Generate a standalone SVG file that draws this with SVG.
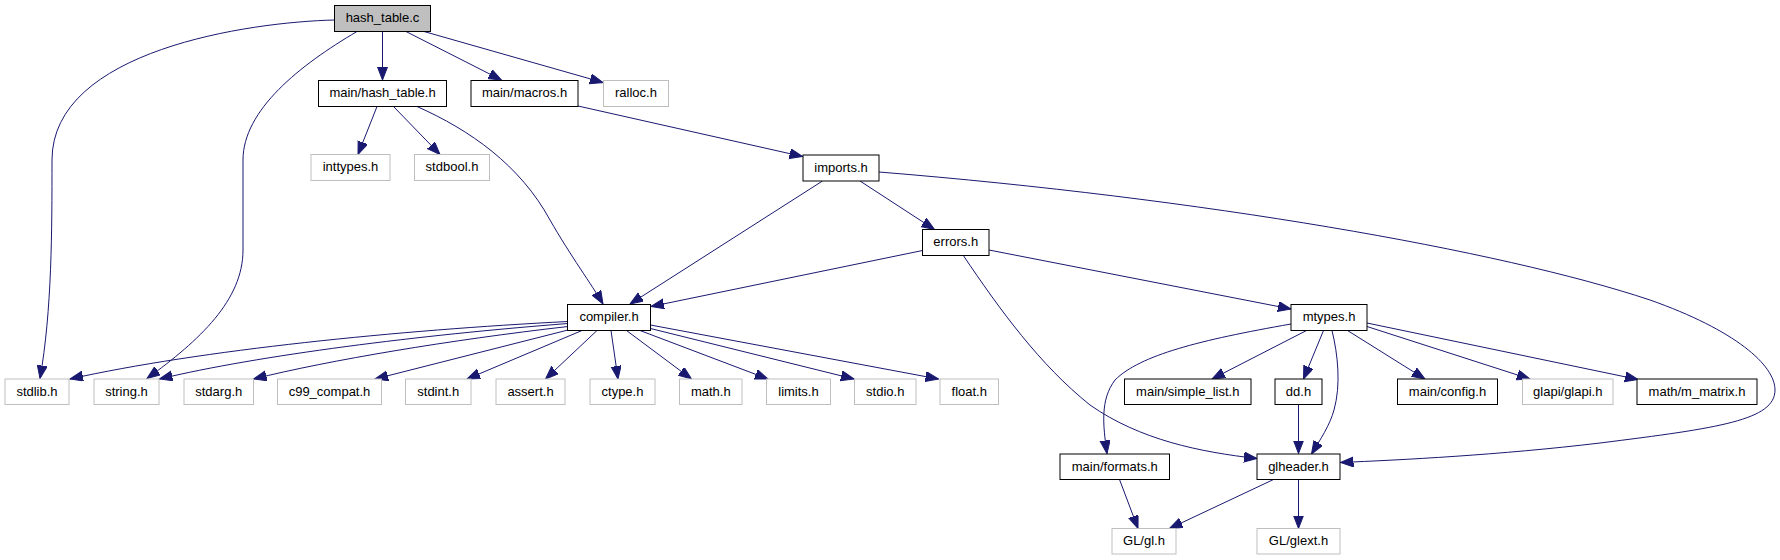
<svg xmlns="http://www.w3.org/2000/svg" width="1780" height="560" viewBox="0 0 1780 560">
<style>
.n rect{fill:#fff;stroke:#000;stroke-width:1}
.g rect{fill:#fff;stroke:#bfbfbf;stroke-width:1}
.m rect{fill:#bfbfbf;stroke:#000;stroke-width:1}
text{font-family:"Liberation Sans",Arial,sans-serif;font-size:13px;fill:#000;text-anchor:middle}
#edges path{fill:none;stroke:#191970;stroke-width:1;marker-end:url(#ah)}
</style>
<defs>
<marker id="ah" markerUnits="userSpaceOnUse" markerWidth="14" markerHeight="11" refX="13" refY="5" orient="auto">
<path d="M0,0 L13,5 L0,10 z" fill="#191970" stroke="#191970" stroke-width="1"/>
</marker>
</defs>
<rect width="1780" height="560" fill="#fff"/>
<g id="edges">
<path d="M334.5,20 C250,22 52,50 52,160 C52,230 52,310 40,378.5"/>
<path d="M357,31.5 C300,65 243,110 243,160 L243,250 C243,300 200,340 147,378.5"/>
<path d="M382.5,31.5 L382.5,80"/>
<path d="M406,31.5 L501.5,80"/>
<path d="M424,31.5 L603,82.5"/>
<path d="M377,106.5 L358,154.5"/>
<path d="M393.5,106.5 L440,154.5"/>
<path d="M417,106.5 C470,130 520,165 550,220 C570,255 592,285 603,304"/>
<path d="M578,106 L802.5,156.5"/>
<path d="M822.5,181 L630,304"/>
<path d="M860,181 L934.5,229.5"/>
<path d="M879,172 C1200,198 1500,250 1650,300 C1735,330 1775,365 1775,390 C1775,420 1720,428 1600,443 C1500,455 1400,460 1340.5,462.5"/>
<path d="M922.5,250.5 L651,306.5"/>
<path d="M989,250 L1291,309"/>
<path d="M963,255 C1000,310 1040,365 1090,405 C1140,440 1200,452 1257,458.5"/>
<path d="M568,321.5 C400,330 200,350 70,379"/>
<path d="M568,323.5 C420,335 260,355 159.5,379"/>
<path d="M568,326.5 C450,340 330,360 253.5,379"/>
<path d="M570,329.5 L375,379"/>
<path d="M582,330.5 L467,379"/>
<path d="M597,330.5 L545.5,379"/>
<path d="M611,330.5 L618,379"/>
<path d="M626.5,330.5 L691.5,379"/>
<path d="M640,330.5 L768,379"/>
<path d="M650.5,328.5 L854,379"/>
<path d="M650.5,325 L938.5,379"/>
<path d="M1291,324 C1200,340 1140,355 1115,380 C1100,400 1103,425 1107,453.5"/>
<path d="M1306.5,330.5 L1212,379"/>
<path d="M1323.5,330.5 L1303.5,379"/>
<path d="M1332,330.5 C1338,355 1341,385 1334,410 C1330,425 1320,440 1311.5,454"/>
<path d="M1347.5,330.5 L1425,379"/>
<path d="M1367,326.5 L1530,379"/>
<path d="M1367,323 L1638,379.5"/>
<path d="M1298.5,404.5 L1298.5,453.5"/>
<path d="M1119.5,479.5 L1138,528.5"/>
<path d="M1273.5,479.5 L1169.5,528.5"/>
<path d="M1298.5,479.5 L1298.5,528.5"/>
</g>
<g id="hash_table_c" class="m"><rect x="334.5" y="5.5" width="96" height="26"/><text x="382.5" y="22">hash_table.c</text></g>
<g id="main_hash_table_h" class="n"><rect x="318.5" y="80.5" width="128" height="26"/><text x="382.5" y="97">main/hash_table.h</text></g>
<g id="main_macros_h" class="n"><rect x="471" y="80.5" width="107" height="26"/><text x="524.5" y="97">main/macros.h</text></g>
<g id="ralloc_h" class="g"><rect x="603.5" y="80.5" width="65" height="26"/><text x="636" y="97">ralloc.h</text></g>
<g id="inttypes_h" class="g"><rect x="311" y="154.5" width="79" height="26"/><text x="350.5" y="171">inttypes.h</text></g>
<g id="stdbool_h" class="g"><rect x="414.5" y="154.5" width="75" height="26"/><text x="452" y="171">stdbool.h</text></g>
<g id="imports_h" class="n"><rect x="803" y="155" width="76" height="26"/><text x="841" y="171.5">imports.h</text></g>
<g id="errors_h" class="n"><rect x="922.5" y="229.5" width="66.5" height="26"/><text x="955.75" y="246">errors.h</text></g>
<g id="compiler_h" class="n"><rect x="567.5" y="304.5" width="83" height="26"/><text x="609" y="321">compiler.h</text></g>
<g id="mtypes_h" class="n"><rect x="1291" y="304.5" width="76" height="26"/><text x="1329" y="321">mtypes.h</text></g>
<g id="stdlib_h" class="g"><rect x="5" y="379" width="64" height="25.5"/><text x="37" y="395.5">stdlib.h</text></g>
<g id="string_h" class="g"><rect x="94" y="379" width="65" height="25.5"/><text x="126.5" y="395.5">string.h</text></g>
<g id="stdarg_h" class="g"><rect x="184" y="379" width="69.5" height="25.5"/><text x="218.75" y="395.5">stdarg.h</text></g>
<g id="c99_compat_h" class="g"><rect x="277.5" y="379" width="104" height="25.5"/><text x="329.5" y="395.5">c99_compat.h</text></g>
<g id="stdint_h" class="g"><rect x="405.5" y="379" width="65.5" height="25.5"/><text x="438.25" y="395.5">stdint.h</text></g>
<g id="assert_h" class="g"><rect x="496" y="379" width="69" height="25.5"/><text x="530.5" y="395.5">assert.h</text></g>
<g id="ctype_h" class="g"><rect x="590" y="379" width="65" height="25.5"/><text x="622.5" y="395.5">ctype.h</text></g>
<g id="math_h" class="g"><rect x="679.5" y="379" width="62.5" height="25.5"/><text x="710.75" y="395.5">math.h</text></g>
<g id="limits_h" class="g"><rect x="766.5" y="379" width="64" height="25.5"/><text x="798.5" y="395.5">limits.h</text></g>
<g id="stdio_h" class="g"><rect x="854.5" y="379" width="61.5" height="25.5"/><text x="885.25" y="395.5">stdio.h</text></g>
<g id="float_h" class="g"><rect x="940" y="379" width="58.5" height="25.5"/><text x="969.25" y="395.5">float.h</text></g>
<g id="main_simple_list_h" class="n"><rect x="1124.5" y="379" width="126.5" height="25.5"/><text x="1187.75" y="395.5">main/simple_list.h</text></g>
<g id="dd_h" class="n"><rect x="1275" y="379" width="47" height="25.5"/><text x="1298.5" y="395.5">dd.h</text></g>
<g id="main_config_h" class="n"><rect x="1397.5" y="379" width="100" height="25.5"/><text x="1447.5" y="395.5">main/config.h</text></g>
<g id="glapi_glapi_h" class="g"><rect x="1522.5" y="379" width="90.5" height="25.5"/><text x="1567.75" y="395.5">glapi/glapi.h</text></g>
<g id="math_m_matrix_h" class="n"><rect x="1637" y="379" width="120" height="25.5"/><text x="1697" y="395.5">math/m_matrix.h</text></g>
<g id="main_formats_h" class="n"><rect x="1060" y="454" width="109.5" height="25.5"/><text x="1114.75" y="470.5">main/formats.h</text></g>
<g id="glheader_h" class="n"><rect x="1257" y="454" width="83" height="25.5"/><text x="1298.5" y="470.5">glheader.h</text></g>
<g id="GL_gl_h" class="g"><rect x="1112" y="528.5" width="64" height="25.5"/><text x="1144" y="545">GL/gl.h</text></g>
<g id="GL_glext_h" class="g"><rect x="1257" y="528.5" width="83" height="25.5"/><text x="1298.5" y="545">GL/glext.h</text></g>
</svg>
